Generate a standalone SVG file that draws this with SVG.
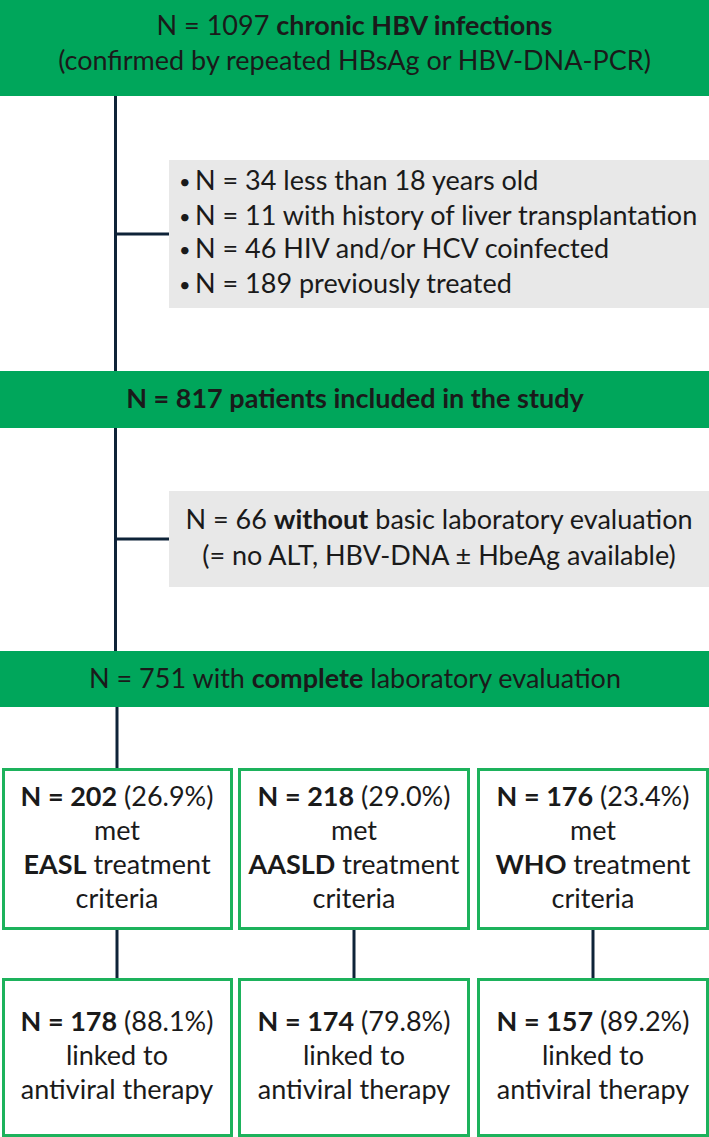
<svg xmlns="http://www.w3.org/2000/svg" width="709" height="1137" viewBox="0 0 709 1137">
<style>
.t{font-family:Lato,"Source Sans Pro","Noto Sans",sans-serif;font-size:27px;fill:#1a1a1a}
.c{text-anchor:middle}
.b{font-weight:bold}
.bu{font-size:20px}
.gf{fill:#00a65b}
.gr{fill:#e8e8e8}
.bx{fill:#ffffff;stroke:#1db25c;stroke-width:3}
.ln{stroke:#0e2338;stroke-width:3;fill:none}
</style>
<rect width="709" height="1137" fill="#ffffff"/>
<g id="connectors">
<line class="ln" x1="115.5" y1="96" x2="115.5" y2="371"/>
<line class="ln" x1="115.5" y1="234" x2="169" y2="234"/>
<line class="ln" x1="115.5" y1="428" x2="115.5" y2="651"/>
<line class="ln" x1="115.5" y1="539" x2="169" y2="539"/>
<line class="ln" x1="117" y1="707" x2="117" y2="769"/>
<line class="ln" x1="117" y1="929" x2="117" y2="978"/>
<line class="ln" x1="354" y1="929" x2="354" y2="978"/>
<line class="ln" x1="593" y1="929" x2="593" y2="978"/>
</g>
<g id="n1">
<rect class="gf" x="0" y="0" width="709" height="96"/>
<text class="t c" x="354.5" y="35">N = 1097 <tspan class="b">chronic HBV infections</tspan></text>
<text class="t c" x="354.5" y="70">(confirmed by repeated HBsAg or HBV-DNA-PCR)</text>
</g>
<g id="ex1">
<rect class="gr" x="169" y="160" width="540" height="148"/>
<text class="t"><tspan class="bu" x="179" y="189">•</tspan><tspan x="195" y="190">N = 34 less than 18 years old</tspan></text>
<text class="t"><tspan class="bu" x="179" y="224">•</tspan><tspan x="195" y="225">N = 11 with history of liver transplantation</tspan></text>
<text class="t"><tspan class="bu" x="179" y="257">•</tspan><tspan x="195" y="258">N = 46 HIV and/or HCV coinfected</tspan></text>
<text class="t"><tspan class="bu" x="179" y="292">•</tspan><tspan x="195" y="293">N = 189 previously treated</tspan></text>
</g>
<g id="n2">
<rect class="gf" x="0" y="371" width="709" height="57"/>
<text class="t c b" x="355" y="408">N = 817 patients included in the study</text>
</g>
<g id="ex2">
<rect class="gr" x="169" y="491" width="540" height="96"/>
<text class="t c" x="439" y="529">N = 66 <tspan class="b">without</tspan> basic laboratory evaluation</text>
<text class="t c" x="439" y="565">(= no ALT, HBV-DNA ± HbeAg available)</text>
</g>
<g id="n3">
<rect class="gf" x="0" y="651" width="709" height="56"/>
<text class="t c" x="355" y="688">N = 751 with <tspan class="b">complete</tspan> laboratory evaluation</text>
</g>
<g id="easl">
<rect class="bx" x="3.5" y="769.5" width="228" height="159"/>
<text class="t c" x="117" y="806"><tspan class="b">N = 202</tspan> (26.9%)</text>
<text class="t c" x="117" y="840">met</text>
<text class="t c" x="117" y="874"><tspan class="b">EASL</tspan> treatment</text>
<text class="t c" x="117" y="908">criteria</text>
</g>
<g id="aasld">
<rect class="bx" x="239.5" y="769.5" width="229" height="159"/>
<text class="t c" x="354" y="806"><tspan class="b">N = 218</tspan> (29.0%)</text>
<text class="t c" x="354" y="840">met</text>
<text class="t c" x="354" y="874"><tspan class="b">AASLD</tspan> treatment</text>
<text class="t c" x="354" y="908">criteria</text>
</g>
<g id="who">
<rect class="bx" x="478.5" y="769.5" width="229" height="159"/>
<text class="t c" x="593" y="806"><tspan class="b">N = 176</tspan> (23.4%)</text>
<text class="t c" x="593" y="840">met</text>
<text class="t c" x="593" y="874"><tspan class="b">WHO</tspan> treatment</text>
<text class="t c" x="593" y="908">criteria</text>
</g>
<g id="easl2">
<rect class="bx" x="3.5" y="979.5" width="228" height="156"/>
<text class="t c" x="117" y="1031"><tspan class="b">N = 178</tspan> (88.1%)</text>
<text class="t c" x="117" y="1065">linked to</text>
<text class="t c" x="117" y="1099">antiviral therapy</text>
</g>
<g id="aasld2">
<rect class="bx" x="239.5" y="979.5" width="229" height="156"/>
<text class="t c" x="354" y="1031"><tspan class="b">N = 174</tspan> (79.8%)</text>
<text class="t c" x="354" y="1065">linked to</text>
<text class="t c" x="354" y="1099">antiviral therapy</text>
</g>
<g id="who2">
<rect class="bx" x="478.5" y="979.5" width="229" height="156"/>
<text class="t c" x="593" y="1031"><tspan class="b">N = 157</tspan> (89.2%)</text>
<text class="t c" x="593" y="1065">linked to</text>
<text class="t c" x="593" y="1099">antiviral therapy</text>
</g>
</svg>
